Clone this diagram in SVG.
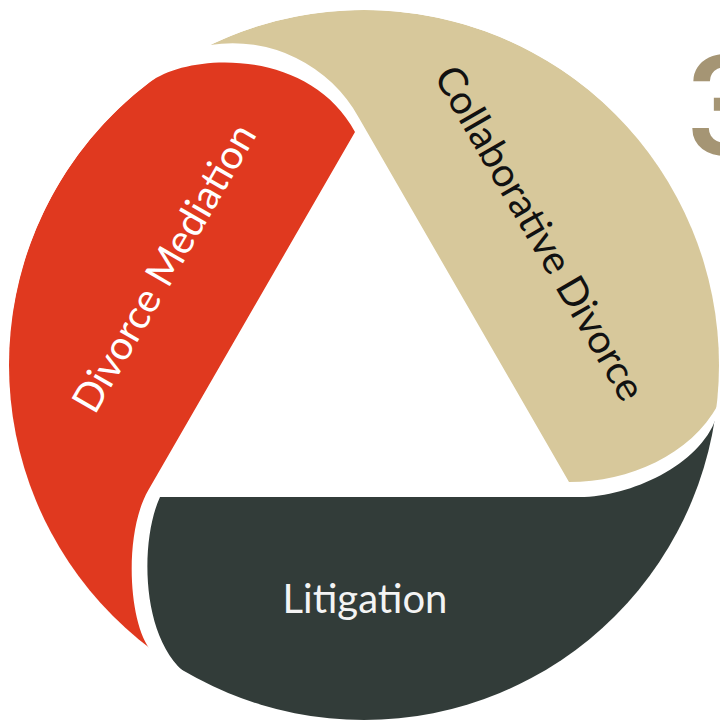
<svg xmlns="http://www.w3.org/2000/svg" width="720" height="722" viewBox="0 0 720 722">
<defs>
<clipPath id="disc"><circle cx="364" cy="365" r="355"/></clipPath>
<style>
.lbl{font-family:Lato,"Open Sans","Liberation Sans",sans-serif;font-size:40px;text-anchor:middle}
.num{font-family:Roboto,"Liberation Sans","DejaVu Sans",sans-serif;font-weight:500;font-size:140px;fill:#a59574}
</style>
</defs>
<rect width="720" height="722" fill="#ffffff"/>
<text class="num" x="687" y="155">3</text>
<g clip-path="url(#disc)">
<g id="mediation">
<path fill="#e0391f" d="M355,132 L148.4,490 C123.4,533 128,625 152,652 A356,356 0 0 1 150,82 C190,52 310,48 355,132 Z"/>
<text class="lbl" fill="#ffffff" transform="translate(164,268) rotate(-60)" y="14">Divorce Mediation</text>
</g>
<g id="collaborative">
<path fill="#d7c89b" d="M210,45 A144,144 0 0 1 359,118 L569,482 C630,482 690,455 718,405 A356,356 0 0 0 210,45 Z"/>
<text class="lbl" fill="#111111" transform="translate(540,233) rotate(60)" y="14">Collaborative Divorce</text>
</g>
<g id="litigation">
<path fill="#323c39" d="M160,497 L580,497 C630,497 700,465 716,418 A356,356 0 0 1 188,675 C140,640 140,540 160,497 Z"/>
<text class="lbl" fill="#f4f4f4" x="365" y="613">Litigation</text>
</g>
</g>
<g id="connectors"/>
</svg>
